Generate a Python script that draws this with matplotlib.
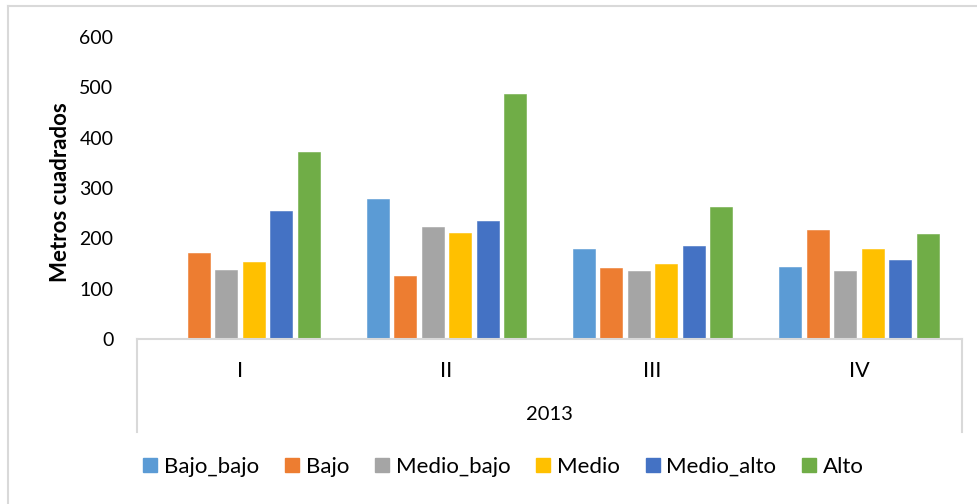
import numpy as np
import matplotlib
matplotlib.use("Agg")
import matplotlib.pyplot as plt
from matplotlib.lines import Line2D
from matplotlib.patches import Patch
from matplotlib.transforms import blended_transform_factory

plt.rcParams['font.family'] = ['Lato', 'DejaVu Sans']

quarters = ["I", "II", "III", "IV"]
year_label = "2013"
series_names = ["Bajo_bajo", "Bajo", "Medio_bajo", "Medio", "Medio_alto", "Alto"]
bajo_bajo = [np.nan, 279, 179, 144]
bajo = [170, 126, 142, 216]
medio_bajo = [138, 222, 135, 136]
medio = [153, 211, 150, 179]
medio_alto = [255, 234, 184, 156]
alto = [372, 486, 263, 208]
series_values = [bajo_bajo, bajo, medio_bajo, medio, medio_alto, alto]
colors = ["#5B9BD5", "#ED7D31", "#A5A5A5", "#FFC000", "#4472C4", "#70AD47"]
y_ticks = [0, 100, 200, 300, 400, 500, 600]
y_label = "Metros cuadrados"

W, H = 978, 504
fig = plt.figure(figsize=(W / 100, H / 100), dpi=100)

def fx(px):
    return px / W

def fy(py):
    return 1 - py / H

left, right = 137, 962
top, base = 37, 339
ax = fig.add_axes([fx(left), fy(base), fx(right - left), (base - top) / H])

n = len(series_names)
slot = 1 / 7.5
bw = slot * 0.80
x = np.arange(len(quarters))
for i, (vals, c) in enumerate(zip(series_values, colors)):
    ax.bar(x + (i - (n - 1) / 2) * slot, vals, width=bw, color=c,
           edgecolor=c, linewidth=0.4, zorder=2)

ax.set_xlim(-0.5, len(quarters) - 0.5)
ax.set_ylim(0, 600)
ax.set_yticks(y_ticks)
ax.set_yticklabels([str(v) for v in y_ticks], fontsize=14)
ax.tick_params(axis='y', length=0, pad=17)
ax.set_xticks(x)
ax.set_xticklabels(quarters, fontsize=15.5)
ax.tick_params(axis='x', length=0, pad=16)
for s in ['top', 'right', 'left']:
    ax.spines[s].set_visible(False)
ax.spines['bottom'].set_color('#D9D9D9')
ax.spines['bottom'].set_linewidth(1.5)

ax.set_ylabel(y_label, fontsize=16, fontweight='bold')
ax.yaxis.set_label_coords((71 - left) / (right - left), (base - 192) / (base - top))

# multi-level axis box sides
for xp in (left, right):
    fig.add_artist(Line2D([fx(xp), fx(xp)], [fy(base), fy(432)], color='#D9D9D9', lw=1.5))

tr = blended_transform_factory(ax.transAxes, fig.transFigure)
ax.text(0.5, fy(415), year_label, transform=tr, ha='center', va='center', fontsize=14.5)

# chart border
fig.add_artist(Line2D([fx(8), fx(8)], [0, fy(6)], color='#D9D9D9', lw=1.5))
fig.add_artist(Line2D([fx(8), 1], [fy(6), fy(6)], color='#D9D9D9', lw=1.5))

handles = [Patch(facecolor=c, edgecolor=c) for c in colors]
fig.legend(handles, series_names, loc='center', bbox_to_anchor=(fx(503.5), fy(467)),
           ncol=6, frameon=False, fontsize=16, handlelength=0.63, handleheight=0.63,
           handletextpad=0.3, columnspacing=1.17)

fig.savefig("out.png", dpi=100)
